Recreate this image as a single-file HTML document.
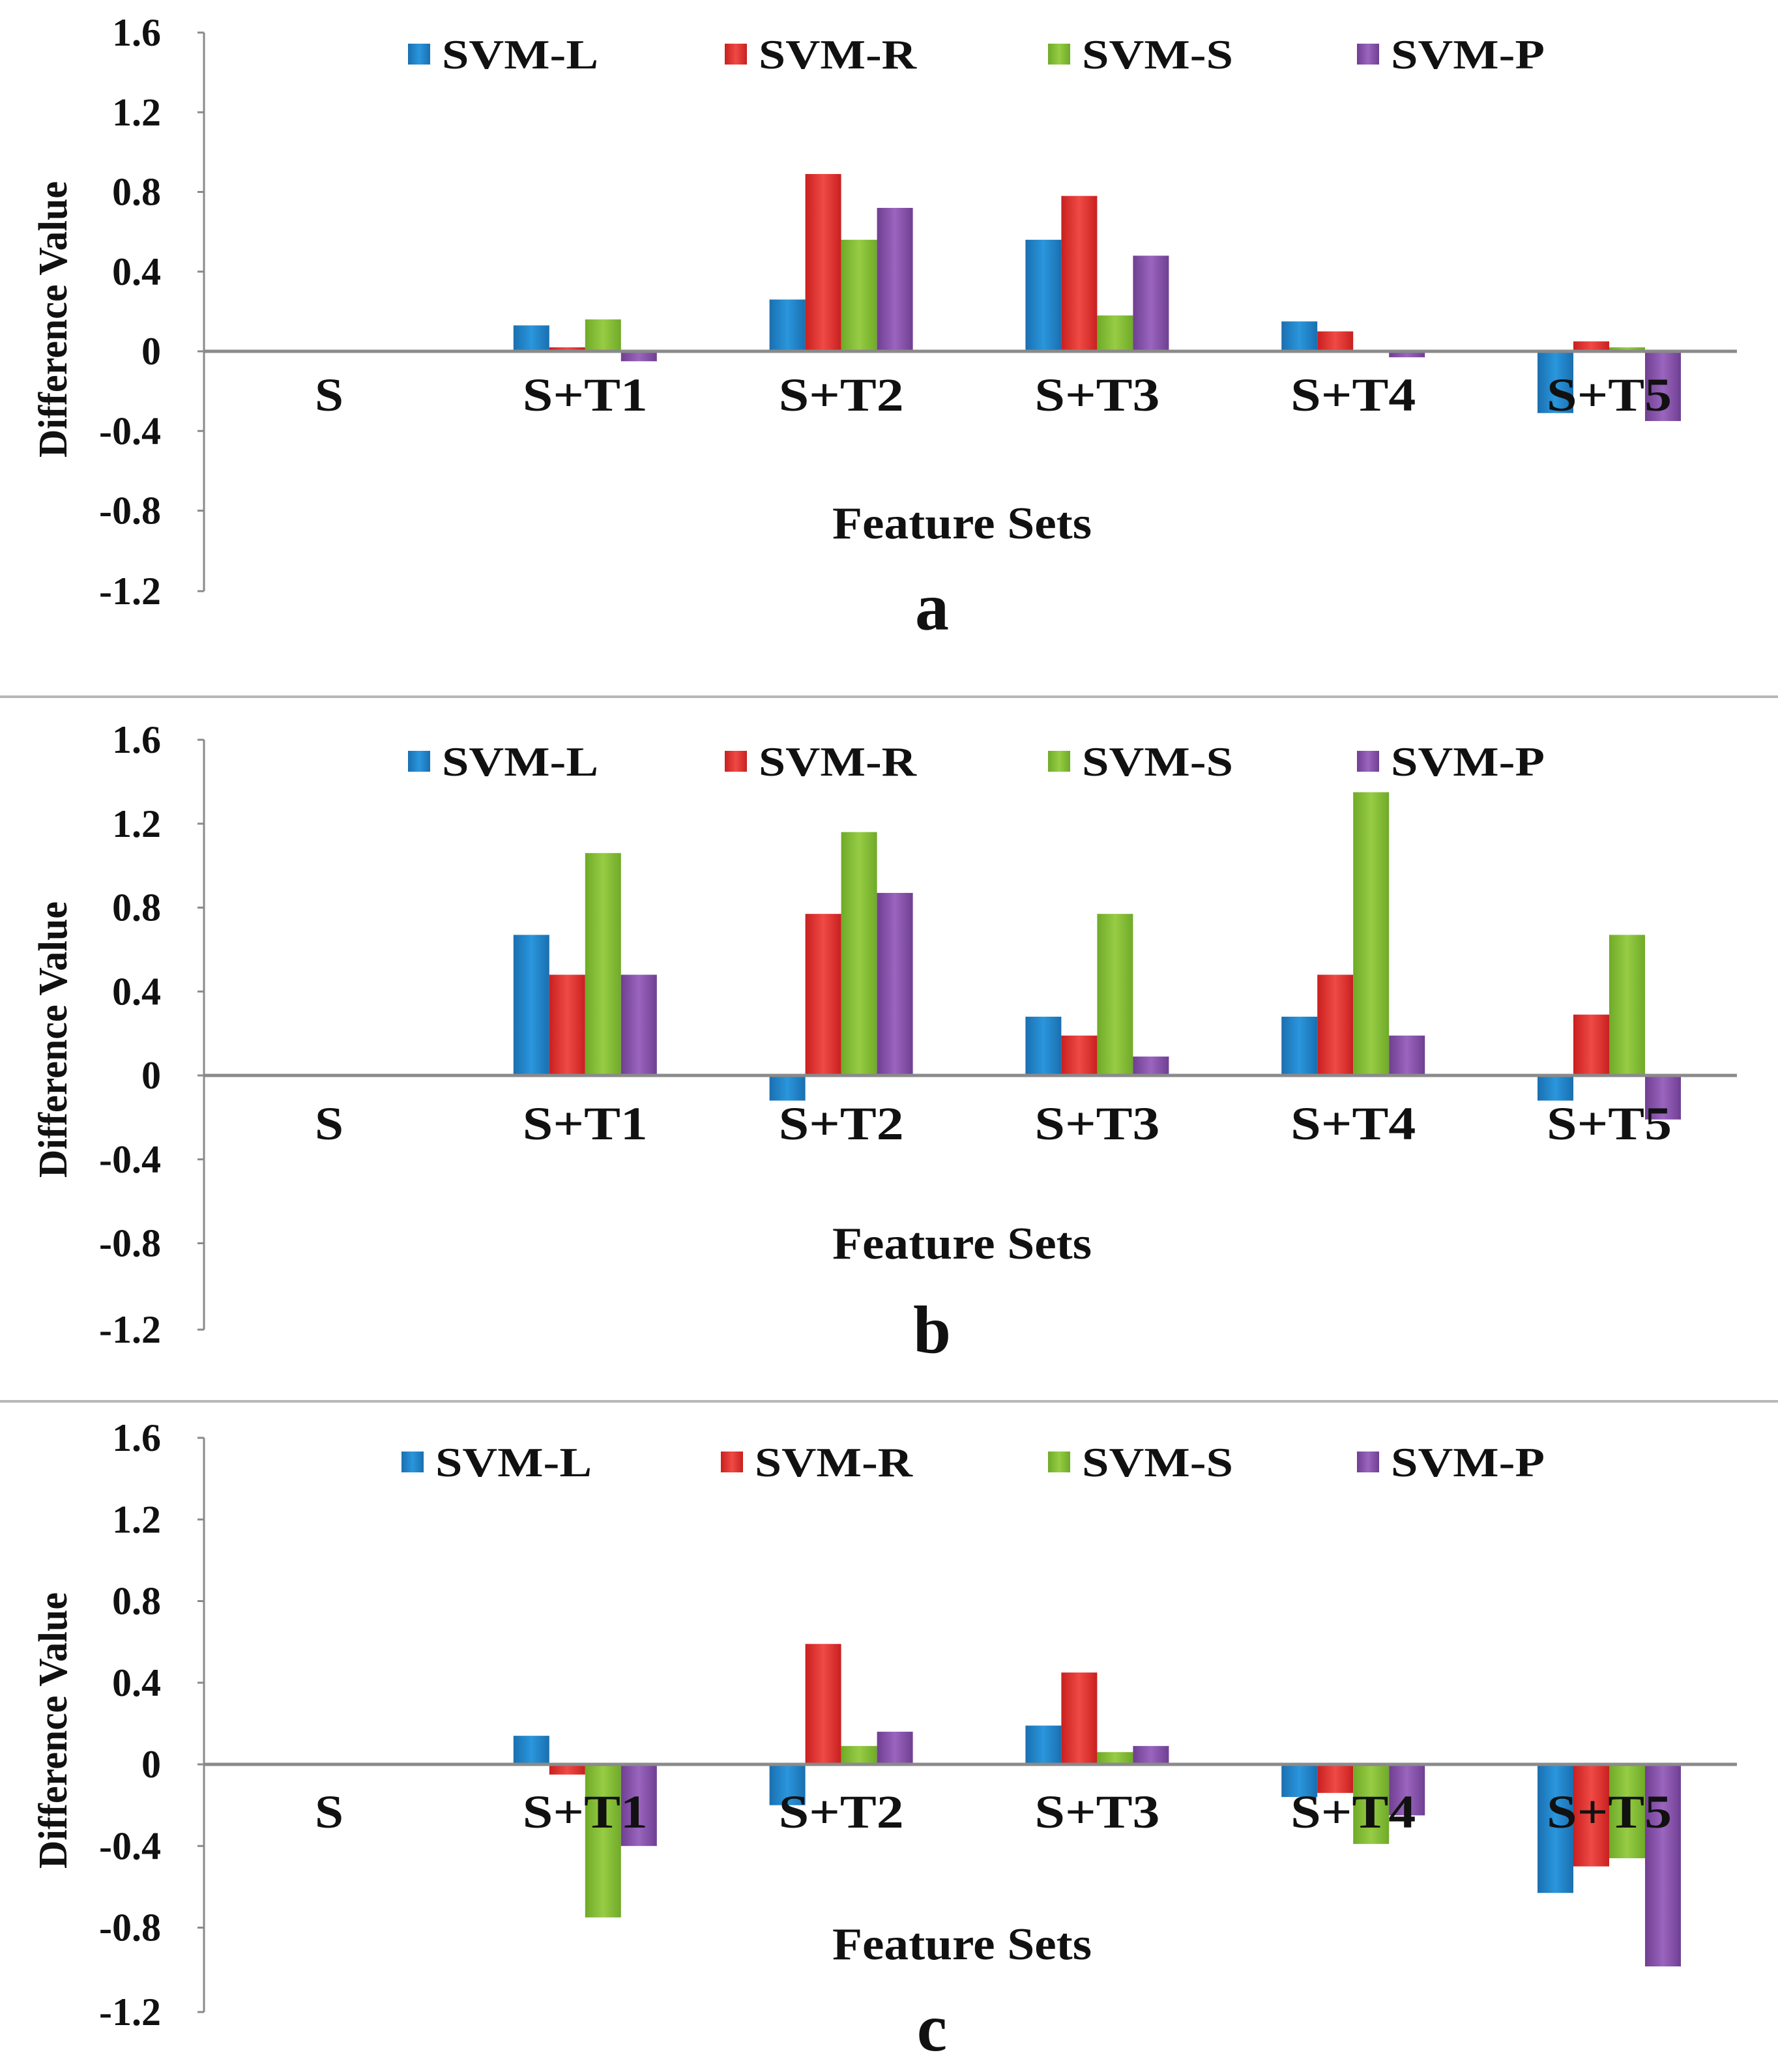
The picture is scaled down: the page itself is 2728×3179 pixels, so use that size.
<!DOCTYPE html>
<html><head><meta charset="utf-8">
<style>
html,body{margin:0;padding:0;background:#fff;}
svg{display:block;}
text{font-family:"Liberation Serif",serif;font-weight:bold;fill:#111;}
</style></head>
<body>
<svg id="chart" width="2728" height="3179" viewBox="0 0 2728 3179" xmlns="http://www.w3.org/2000/svg">
<defs>
<linearGradient id="gL" x1="0" x2="1"><stop offset="0" stop-color="#1a6fb0"/><stop offset="0.5" stop-color="#2a96dc"/><stop offset="1" stop-color="#1a6fb0"/></linearGradient>
<linearGradient id="gR" x1="0" x2="1"><stop offset="0" stop-color="#c8201f"/><stop offset="0.5" stop-color="#f04a45"/><stop offset="1" stop-color="#c8201f"/></linearGradient>
<linearGradient id="gS" x1="0" x2="1"><stop offset="0" stop-color="#6faa28"/><stop offset="0.5" stop-color="#97cc45"/><stop offset="1" stop-color="#6faa28"/></linearGradient>
<linearGradient id="gP" x1="0" x2="1"><stop offset="0" stop-color="#6f3f92"/><stop offset="0.5" stop-color="#9a65be"/><stop offset="1" stop-color="#6f3f92"/></linearGradient>
</defs>
</svg>
<script>
const categories = ["S","S+T1","S+T2","S+T3","S+T4","S+T5"];
const seriesNames = ["SVM-L","SVM-R","SVM-S","SVM-P"];
const tickValues = [1.6,1.2,0.8,0.4,0,-0.4,-0.8,-1.2];
const tickLabels = ["1.6","1.2","0.8","0.4","0","-0.4","-0.8","-1.2"];
const panelLabels = ["a","b","c"];
const aL = [0,0.13,0.26,0.56,0.15,-0.31];
const aR = [0,0.02,0.89,0.78,0.10,0.05];
const aS = [0,0.16,0.56,0.18,0,0.02];
const aP = [0,-0.05,0.72,0.48,-0.03,-0.35];
const bL = [0,0.67,-0.12,0.28,0.28,-0.12];
const bR = [0,0.48,0.77,0.19,0.48,0.29];
const bS = [0,1.06,1.16,0.77,1.35,0.67];
const bP = [0,0.48,0.87,0.09,0.19,-0.21];
const cL = [0,0.14,-0.20,0.19,-0.16,-0.63];
const cR = [0,-0.05,0.59,0.45,-0.14,-0.50];
const cS = [0,-0.75,0.09,0.06,-0.39,-0.46];
const cP = [0,-0.40,0.16,0.09,-0.25,-0.99];
const panelData = [[aL,aR,aS,aP],[bL,bR,bS,bP],[cL,cR,cS,cP]];

const NS="http://www.w3.org/2000/svg";
const svg=document.getElementById('chart');
function mk(tag,attrs,parent){const e=document.createElementNS(NS,tag);for(const k in attrs)e.setAttribute(k,attrs[k]);(parent||svg).appendChild(e);return e;}
const grads=["url(#gL)","url(#gR)","url(#gS)","url(#gP)"];
const legendX=[[626,1112,1608,2082],[626,1112,1608,2082],[616,1106,1608,2082]];
const legendW=[240,242,232,236];
const layout=[
 {top:50,zero:539,bottom:907,legendY:83,catY:630,fsY:826,letterY:966,ytY:490},
 {top:1135,zero:1650,bottom:2040,legendY:1168,catY:1748,fsY:1931,letterY:2075,ytY:1595},
 {top:2206,zero:2707,bottom:3087,legendY:2243,catY:2804,fsY:3006,letterY:3146,ytY:2655}
];
const axisX=313, plotRight=2665;
function xCenter(i){return 505+i*392.8;}
const barW=55;

[1069,2150].forEach((y,i)=>{
 const l=mk('line',{x1:0,x2:2728,y1:y,y2:y,stroke:'#b8b8b8','stroke-width':4});
 
 
});

layout.forEach((L,p)=>{
 const g=mk('g',{});
 
 
 const unit=(L.zero-L.top)/1.6;
 const yScale=v=>L.zero-v*unit;
 const ax=mk('line',{x1:axisX,x2:axisX,y1:L.top,y2:L.bottom,stroke:'#8a8a8a','stroke-width':3},g);
 
 
 tickValues.forEach((v,i)=>{
  const y=(i===tickValues.length-1)?L.bottom:yScale(v);
  mk('line',{x1:axisX-10,x2:axisX,y1:y,y2:y,stroke:'#8a8a8a','stroke-width':3},g);
  const t=mk('text',{x:axisX-66,y:y+20,'text-anchor':'end','font-size':60},g);
  t.textContent=tickLabels[i];
  
  
 });
 panelData[p].forEach((ser,s)=>{
  ser.forEach((v,i)=>{
   if(v===0)return;
   const x=xCenter(i)-2*barW+s*barW;
   const y0=yScale(0), y1=yScale(v);
   const r=mk('rect',{x:x,y:Math.min(y0,y1),width:barW,height:Math.abs(y1-y0),fill:grads[s]},g);
   
   
  });
 });
 const z=mk('line',{x1:axisX,x2:plotRight,y1:yScale(0),y2:yScale(0),stroke:'#8a8a8a','stroke-width':5},g);
 
 
 categories.forEach((c,i)=>{
  const t=mk('text',{x:xCenter(i),y:L.catY,'text-anchor':'middle','font-size':72,textLength:(c.length===1?44:192),lengthAdjust:'spacingAndGlyphs'},g);
  t.textContent=c;
  
  
 });
 seriesNames.forEach((n,s)=>{
  const lx=legendX[p][s];
  const sq=mk('rect',{x:lx,y:L.legendY-16,width:34,height:32,fill:grads[s]},g);
  
  
  const t=mk('text',{x:lx+52,y:L.legendY+22,'font-size':64,textLength:legendW[s],lengthAdjust:'spacingAndGlyphs'},g);
  t.textContent=n;
  
  
 });
 const fs=mk('text',{x:1476,y:L.fsY,'text-anchor':'middle','font-size':70,textLength:398,lengthAdjust:'spacingAndGlyphs'},g);
 fs.textContent='Feature Sets';
 
 
 const yt=mk('text',{x:0,y:0,'text-anchor':'middle','font-size':62,textLength:424,lengthAdjust:'spacingAndGlyphs',transform:'translate(102,'+L.ytY+') rotate(-90)'},g);
 yt.textContent='Difference Value';
 
 
 const lt=mk('text',{x:1430,y:L.letterY,'text-anchor':'middle','font-size':104},g);
 lt.textContent=panelLabels[p];
 
 
});
</script>
</body></html>
